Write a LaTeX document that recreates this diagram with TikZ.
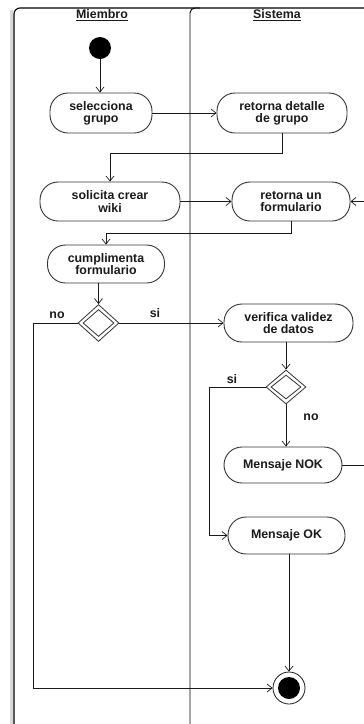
\documentclass[tikz,border=0pt]{standalone}
\usepackage{fontspec}
\setmainfont{Liberation Sans}
\usetikzlibrary{arrows.meta,shapes.geometric,calc}
\definecolor{ink}{HTML}{1A1A1A}
\definecolor{edge}{HTML}{333333}
\begin{document}
\begin{tikzpicture}[x=1pt,y=-1pt,
  txt/.style={font=\fontsize{12.4}{12.2}\selectfont\bfseries, text=ink},
  act/.style={txt, draw=edge, line width=0.9pt, fill=white, rectangle,
    rounded corners=18pt, align=center, inner sep=0pt},
  lbl/.style={txt, inner sep=0pt},
  dec/.style={diamond, draw=edge, line width=0.8pt, fill=white, inner sep=0pt},
  flow/.style={draw=ink, line width=0.7pt, -{Straight Barb[length=5pt,width=8pt]}},
  lane/.style={draw=black, line width=0.9pt}
]
\useasboundingbox (0,0) rectangle (364,724);
\clip (0,0) rectangle (364,724);
\fill[white] (0,0) rectangle (364,724);

% swimlane frame with its soft shadow
\draw[black!15, line width=3pt, rounded corners=6pt] (11.5,740) -- (11.5,10);
\draw[lane, line width=1.1pt, rounded corners=6pt] (14,740) -- (14,8) -- (380,8);
\draw[lane, rounded corners=5pt] (190,740) -- (190,8) -- (200,8);

\node[lbl] (hm) at (102,15.5) {\underline{Miembro}};
\node[lbl] (hs) at (277,15.5) {\underline{Sistema}};

% initial and final states
\node[circle, fill=black, minimum size=22pt, inner sep=0pt] (start) at (100,48) {};
\node[circle, draw=ink, line width=0.8pt, fill=white, minimum size=32pt, inner sep=0pt] (end) at (289,688) {};
\fill[black] (end.center) circle (11pt);

% activities
\node[act, minimum width=102pt, minimum height=40pt] (sel) at (101,113) {selecciona\\grupo};
\node[act, minimum width=130pt, minimum height=40pt] (ret1) at (282,113) {retorna detalle\\de grupo};
\node[act, minimum width=140pt, minimum height=39pt] (sol) at (110,201.5) {solicita crear\\wiki};
\node[act, minimum width=118pt, minimum height=39pt] (ret2) at (291,201.5) {retorna un\\formulario};
\node[act, minimum width=117pt, minimum height=38pt] (cum) at (106,264) {cumplimenta\\formulario};
\node[act, minimum width=129pt, minimum height=38pt] (ver) at (288.5,323) {verifica validez\\de datos};
\node[act, minimum width=118pt, minimum height=36pt] (nok) at (283,465) {Mensaje NOK};
\node[act, minimum width=117pt, minimum height=37pt] (ok) at (286.5,535.5) {Mensaje OK};

% decisions (double outline)
\node[dec, minimum width=41pt, minimum height=37pt] (d1) at (98.5,323) {};
\node[dec, minimum width=31pt, minimum height=27pt] (d1i) at (98.5,323) {};
\node[dec, minimum width=40pt, minimum height=34pt] (d2) at (286,387) {};
\node[dec, minimum width=30pt, minimum height=24pt] (d2i) at (286,387) {};

% guards
\node[lbl] (g1) at (57,315) {no};
\node[lbl] (g2) at (155,313) {si};
\node[lbl] (g3) at (232,379) {si};
\node[lbl] (g4) at (311,417) {no};

% control flow
\draw[flow] (start.south) -- (start.south |- sel.north);
\draw[flow] (sel.east) -- (ret1.west);
\draw[flow] (ret1.south) -- ++(0,20) -| (sol.north);
\draw[flow] (sol.east) -- (ret2.west);
\draw[flow] (ret2.south) -- ++(0,12) -| (cum.north);
\draw[flow] (d1.north |- cum.south) -- (d1.north);
\draw[flow] (d1.east) -- (ver.west);
\draw[flow] (d1.west) -- ++(-44.5,0) |- (end.west);
\draw[flow] (d2.north |- ver.south) -- (d2.north);
\draw[flow] (d2.south) -- (d2.south |- nok.north);
\draw[flow] (d2.west) -- ++(-56,0) |- (ok.west);
\draw[flow] (end.north |- ok.south) -- (end.north);
\draw[flow] (nok.east) -- ++(40,0) |- (ret2.east);
\end{tikzpicture}
\end{document}
